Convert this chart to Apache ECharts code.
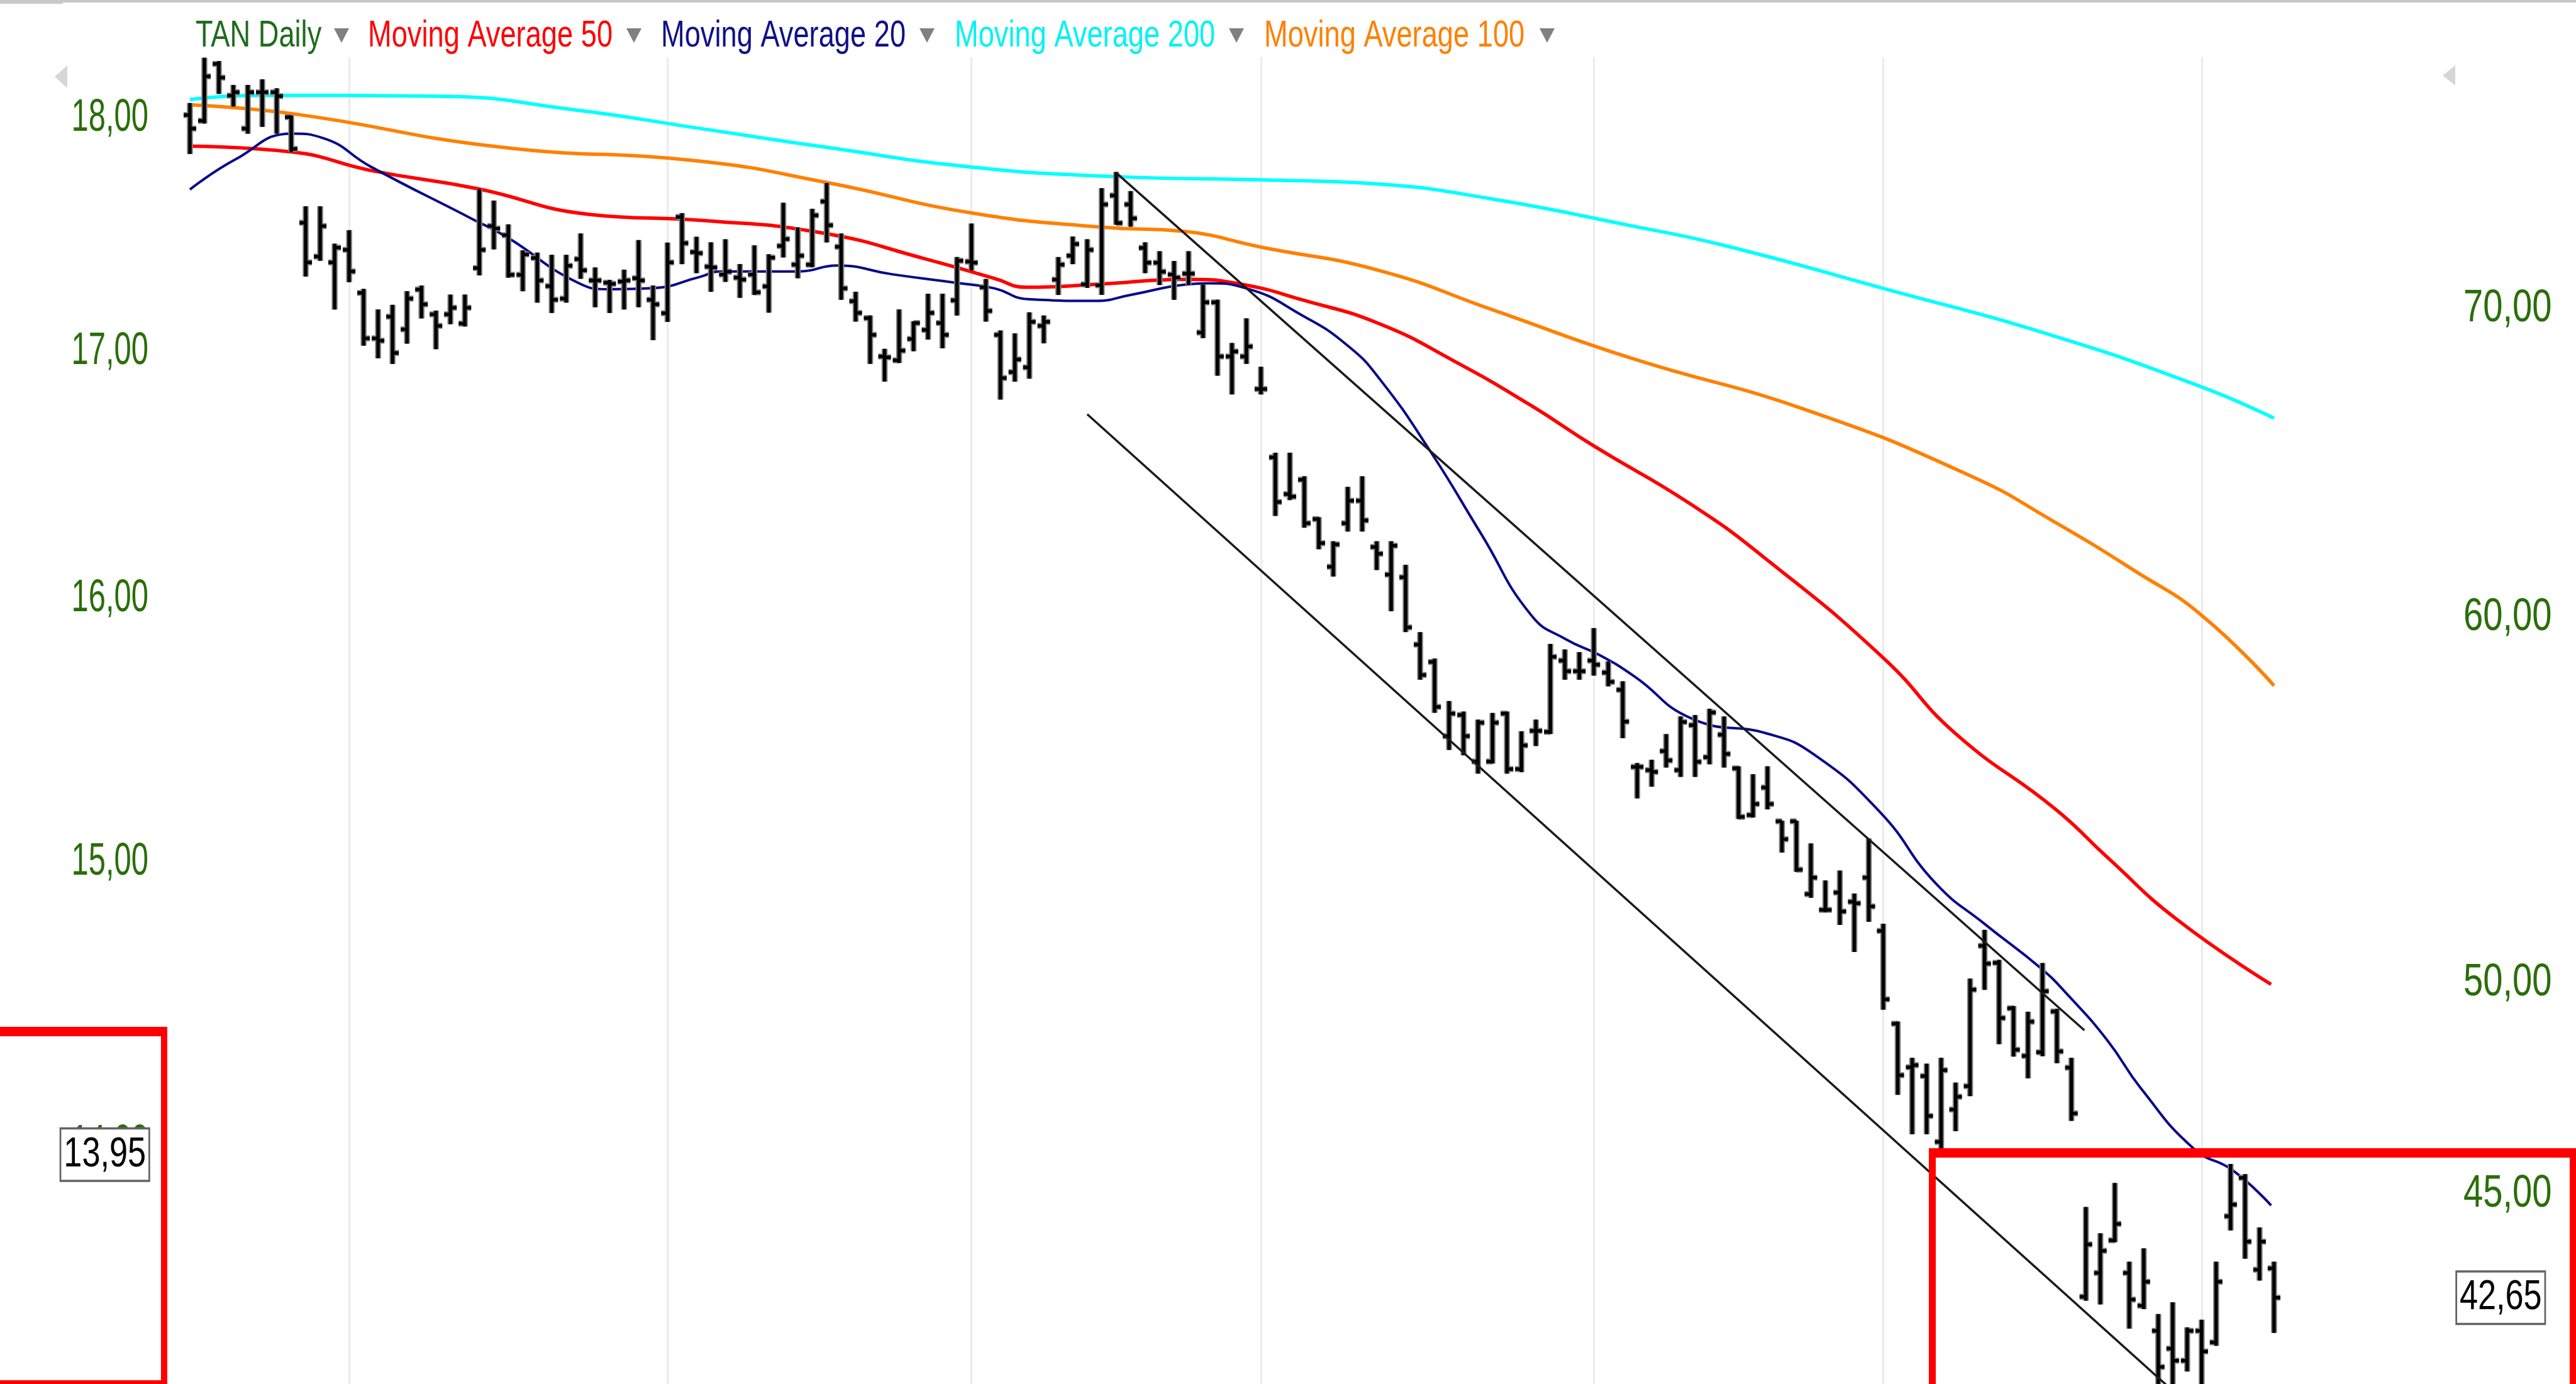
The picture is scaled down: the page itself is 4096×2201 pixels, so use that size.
<!DOCTYPE html>
<html>
<head>
<meta charset="utf-8">
<script src="https://cdn.jsdelivr.net/npm/echarts@6/dist/echarts.min.js"></script>
<style>
html, body { margin: 0; padding: 0; background: #fff; }
#chart { width: 4096px; height: 2201px; }
</style>
</head>
<body>
<div id="chart"></div>
<script>
// TAN daily bars, index 0 = first bar on the left
var opens = [76.97,76.75,78.96,77.72,76.45,77.85,77.85,76.89,72.94,71.72,
71.51,71.96,70.43,68.85,69.60,69.16,70.55,69.68,69.68,69.36,
71.31,72.82,72.49,71.07,71.67,70.67,70.23,71.63,70.87,70.79,
70.83,70.95,70.19,69.72,73.15,71.88,71.36,71.08,70.97,71.08,
70.66,72.10,71.43,71.43,73.72,72.07,70.14,69.55,68.23,68.10,
68.83,69.14,69.38,70.17,71.54,70.63,68.97,67.70,67.86,69.28,
70.90,71.75,70.73,70.70,73.94,73.61,72.03,71.50,71.08,71.11,
69.05,70.10,68.23,68.23,67.13,64.88,63.70,64.16,62.91,61.43,
62.78,63.49,62.04,61.19,61.11,59.09,58.58,56.45,57.05,55.74,
55.74,57.09,55.53,56.60,56.57,58.62,58.31,58.62,58.27,57.77,
55.59,55.50,56.03,55.50,56.76,55.86,56.49,55.55,54.27,55.02,
54.10,54.10,52.17,51.76,52.21,51.97,52.60,51.22,48.90,47.85,
47.64,46.10,46.85,47.40,50.84,50.41,49.28,48.12,48.21,49.20,
47.84,42.67,43.18,43.89,43.18,42.48,41.95,41.58,41.33,41.95,
41.71,44.42,45.28,43.25,43.28];
var highs = [77.41,79.18,79.05,78.11,78.11,78.33,77.98,76.93,73.52,73.52,
72.16,72.65,70.55,69.83,69.99,70.47,70.67,69.79,70.35,70.35,
74.15,73.73,72.86,71.92,71.84,71.76,71.76,72.53,71.31,70.87,
71.23,72.29,70.67,72.20,73.27,72.41,72.21,72.32,71.43,72.10,
71.78,73.65,72.75,73.43,74.38,72.53,70.45,69.62,68.47,69.83,
69.42,70.38,70.38,71.68,72.89,70.90,69.10,69.00,69.73,69.62,
71.68,72.42,72.32,74.19,74.79,74.08,72.21,71.89,71.54,71.89,
70.70,70.17,68.67,69.52,67.86,65.01,65.01,64.25,62.95,62.20,
63.91,64.25,62.20,62.20,61.47,59.44,58.66,57.43,57.13,56.90,
57.09,57.13,56.57,56.90,59.09,58.93,58.85,59.56,58.58,58.00,
55.68,55.77,56.49,56.99,57.03,57.21,56.99,55.59,55.37,55.59,
54.10,54.10,53.49,52.51,52.77,52.17,53.62,51.39,48.94,48.06,
47.92,48.06,47.47,50.00,51.23,50.47,49.32,49.18,50.39,49.25,
48.06,44.61,44.03,45.15,43.41,43.70,42.29,42.54,42.01,42.17,
43.41,45.58,45.35,44.16,43.41];
var lows = [75.51,76.67,77.81,77.32,76.28,76.54,76.28,75.59,71.03,71.59,
69.87,70.83,68.62,68.19,68.00,68.69,69.56,68.50,69.36,69.28,
71.07,72.00,70.99,70.51,70.11,69.75,70.11,70.95,69.95,69.75,
69.87,69.95,68.81,69.44,71.47,71.15,70.49,70.84,70.28,70.38,
69.76,71.71,70.97,71.36,72.25,70.21,69.45,68.00,67.40,68.03,
68.43,68.83,68.53,69.66,71.25,69.45,66.80,67.40,67.50,68.70,
70.38,71.47,70.63,70.38,72.89,72.82,71.15,70.73,70.21,70.73,
68.88,67.60,66.97,68.00,66.97,63.03,63.53,62.66,61.99,61.15,
62.54,62.54,61.35,60.10,59.48,58.08,57.13,56.08,55.93,55.42,
55.70,55.42,55.46,56.19,56.53,58.08,58.08,58.20,57.89,56.41,
54.74,55.06,55.59,55.33,55.33,55.68,55.59,54.18,54.22,54.44,
53.28,52.77,52.09,51.72,51.39,50.70,51.47,49.26,47.21,46.29,
46.29,45.95,46.36,47.18,49.75,48.42,48.12,47.60,48.13,47.96,
46.60,42.60,42.52,43.86,42.01,42.42,40.80,40.85,41.12,40.70,
41.65,44.12,43.50,43.03,41.92];
var closes = [76.45,78.47,78.42,77.85,77.85,77.85,77.70,75.68,71.51,72.82,
72.04,71.19,68.85,68.77,68.35,70.23,70.03,69.28,69.91,69.91,
71.96,72.73,71.07,71.80,70.87,70.19,71.39,71.23,70.87,70.75,
70.87,70.87,70.03,71.51,72.20,71.84,71.33,71.18,70.90,70.45,
71.68,72.35,71.75,73.21,72.85,70.59,69.73,68.97,68.20,68.43,
69.38,69.73,68.97,71.57,71.50,69.80,67.50,68.13,69.42,69.42,
71.43,72.17,71.96,73.61,72.93,73.10,71.50,71.18,70.97,71.11,
70.10,68.23,68.40,68.57,67.13,63.45,63.62,62.78,62.16,62.12,
63.49,62.87,61.83,62.08,59.60,58.20,57.28,57.09,56.45,56.83,
56.83,55.53,56.19,56.60,58.73,58.31,58.31,58.50,58.00,56.86,
55.59,55.45,55.77,56.85,55.73,57.12,55.95,54.22,54.57,54.57,
53.62,52.81,52.60,51.76,51.72,51.93,51.85,49.50,47.66,47.90,
46.70,47.78,47.15,49.74,50.39,49.04,48.27,48.95,49.70,48.23,
46.76,43.80,43.66,44.25,42.61,42.99,41.20,41.33,41.95,41.52,
42.99,44.68,43.86,43.86,42.65];

// moving averages: [bar index, price]
var ma20 = [[0,74.16],[3.1,75.27],[7.1,76.26],[9.2,76.09],[12.5,75.01],[19.5,73.08],[21.9,72.42],
[26.6,70.84],[29,70.56],[32,70.60],[35.2,70.99],[36.7,71.19],[42.1,71.19],[44.7,71.40],[48.5,71.09],
[53.2,70.77],[55.6,70.59],[57.9,70.21],[62.6,70.15],[65,70.36],[68.9,70.73],[70.4,70.77],[73,70.59],
[76.9,69.63],[80,68.60],[82.2,67.47],[85.7,65.08],[89.2,62.46],[92.7,59.95],[95.1,59.24],[97.4,58.78],
[99.8,58.16],[103.8,56.94],[109,56.52],[112.2,55.94],[116.8,54.34],[120.6,52.46],[124.1,51.37],
[127.9,50.27],[129.8,49.59],[132.5,48.49],[134.8,47.35],[138.5,45.93],[141.1,45.46],[143.8,44.66]];
var ma50 = [[0,75.78],[7.1,75.56],[12.5,74.87],[19.8,74.20],[27.7,73.24],[35.2,73.03],[43.7,72.57],
[50.8,71.64],[55.6,70.94],[57.8,70.63],[62.6,70.73],[69,70.91],[72.7,70.73],[76.9,70.18],[82.2,69.35],
[87.4,68.06],[92.6,66.60],[97,65.25],[103.7,63.38],[109.1,61.60],[117,58.70],[122,56.52],[128.9,54.43],
[132.5,53.13],[137.3,51.51],[143.8,49.87]];
var ma100 = [[0,77.36],[7.1,77.02],[21.4,75.75],[35.2,75.22],[44,74.42],[54.1,73.29],[63,72.78],
[68.6,72.63],[74,72.06],[82.2,71.22],[90,69.84],[99.6,68.17],[111.7,66.43],[123,64.29],[128.8,62.83],
[134.4,61.30],[139,59.96],[144,57.89]];
var ma200 = [[0,77.57],[4.5,77.73],[17,77.70],[26.6,77.17],[35.2,76.46],[44,75.74],[54.1,74.99],
[64,74.64],[74,74.52],[82.2,74.36],[90,73.81],[99.6,72.83],[106,72.12],[117,70.59],[128.8,68.93],
[139,67.20],[144,66.16]];

var upperTrend = [[64, 74.78], [130.9, 48.74]];
var lowerTrend = [[62, 66.29], [138.5, 40.32]];
var monthStarts = [11, 33, 54, 74, 97, 117, 139];

var rightTicks = [45, 50, 60, 70];
var leftTicks = [14, 15, 16, 17, 18];
var lastRight = 42.65;
var lastLeft = 13.95;

var X_MIN = -1.78, X_MAX = 156;
var labelFont = '"Liberation Sans", Arial, sans-serif';

function fmt(p) {
    return p.toFixed(2).replace('.', ',');
}
function toLog(list) {
    return list.map(function (d) { return [d[0], Math.log(d[1])]; });
}

var barData = opens.map(function (o, i) {
    return [i, Math.log(o), Math.log(highs[i]), Math.log(lows[i]), Math.log(closes[i])];
});

function renderBar(params, api) {
    var i = api.value(0);
    var o = api.coord([i, api.value(1)]);
    var h = api.coord([i, api.value(2)]);
    var l = api.coord([i, api.value(3)]);
    var c = api.coord([i, api.value(4)]);
    var parts = [];
    [['#808080', 9.5], ['#000000', 5.5]].forEach(function (s) {
        parts.push({ type: 'line', shape: { x1: h[0], y1: h[1] - 1, x2: l[0], y2: l[1] + 1 },
            style: { stroke: s[0], lineWidth: s[1] } });
        parts.push({ type: 'line', shape: { x1: o[0] - 10, y1: o[1], x2: o[0], y2: o[1] },
            style: { stroke: s[0], lineWidth: s[1] } });
        parts.push({ type: 'line', shape: { x1: c[0], y1: c[1], x2: c[0] + 10, y2: c[1] },
            style: { stroke: s[0], lineWidth: s[1] } });
    });
    return { type: 'group', children: parts };
}

// price scale labels, placed through the y axes; the last price gets a box
function labelData(ticks, last, xEdge) {
    return ticks.map(function (p) { return [xEdge, Math.log(p), p, 0]; })
        .concat([[xEdge, Math.log(last), last, 1]]);
}
function renderLabel(params, api) {
    var onRight = params.seriesName === 'right labels';
    var pt = api.coord([api.value(0), api.value(1)]);
    var boxed = api.value(3) === 1;
    var style = {
        text: fmt(api.value(2)),
        fill: boxed ? '#000000' : '#2a6e0a',
        font: (boxed ? 67 : 72) + 'px ' + labelFont,
        align: onRight ? 'left' : 'right', textAlign: onRight ? 'left' : 'right',
        verticalAlign: 'middle', textVerticalAlign: 'middle'
    };
    var x = onRight ? pt[0] + 15 : pt[0] - 25;
    var sx = 0.78;
    if (boxed) {
        style.backgroundColor = '#ffffff';
        style.borderColor = '#636363';
        style.borderWidth = 3.5;
        style.padding = [9, 5, 4, 5];
    } else if (onRight) {
        x += 10;
    } else {
        sx = 0.68;
    }
    return { type: 'text', x: x, y: pt[1] + (boxed ? 0 : 6), scaleX: sx, style: style, z2: boxed ? 10 : 1 };
}

function maLine(name, list, color, width) {
    return {
        name: name, type: 'line', data: toLog(list), smooth: 0.5, symbol: 'none',
        lineStyle: { color: color, width: width }, z: 2, silent: true
    };
}

var legendItems = [
    { text: 'TAN Daily', color: '#1e6b1e', x: 311, tri: 543 },
    { text: 'Moving Average 50', color: '#ff0000', x: 585, tri: 1008 },
    { text: 'Moving Average 20', color: '#10108a', x: 1051, tri: 1474 },
    { text: 'Moving Average 200', color: '#00f2f2', x: 1518, tri: 1966 },
    { text: 'Moving Average 100', color: '#ff8000', x: 2010, tri: 2460 }
];

var graphics = [
    { type: 'rect', shape: { x: 0, y: 0, width: 4096, height: 4 }, style: { fill: '#c8c8c8' } },
    { type: 'rect', shape: { x: 0, y: 2, width: 100, height: 4 }, style: { fill: '#c8c8c8' } },
    { type: 'polygon', shape: { points: [[87, 122], [107, 104], [107, 140]] }, style: { fill: '#d6d6d6' } },
    { type: 'polygon', shape: { points: [[3884, 120], [3904, 104], [3904, 136]] }, style: { fill: '#d6d6d6' } },
    // red highlight boxes
    { type: 'rect', shape: { x: 0, y: 1633, width: 266, height: 15 }, style: { fill: '#ff0000' }, z: 100 },
    { type: 'rect', shape: { x: 256, y: 1633, width: 10, height: 568 }, style: { fill: '#ff0000' }, z: 100 },
    { type: 'rect', shape: { x: 0, y: 2195, width: 266, height: 6 }, style: { fill: '#ff0000' }, z: 100 },
    { type: 'rect', shape: { x: 3067, y: 1826, width: 1029, height: 15 }, style: { fill: '#ff0000' }, z: 100 },
    { type: 'rect', shape: { x: 3067, y: 1826, width: 11, height: 375 }, style: { fill: '#ff0000' }, z: 100 },
    { type: 'rect', shape: { x: 4086, y: 1826, width: 10, height: 375 }, style: { fill: '#ff0000' }, z: 100 }
];
legendItems.forEach(function (it) {
    graphics.push({
        type: 'text', x: it.x, y: 58, scaleX: 0.767,
        style: { text: it.text, fill: it.color, font: '59px ' + labelFont,
            textVerticalAlign: 'middle', verticalAlign: 'middle' }
    });
    graphics.push({
        type: 'polygon', shape: { points: [[it.tri - 12, 45], [it.tri + 12, 45], [it.tri, 68]] },
        style: { fill: '#808080' }
    });
});

var chart = echarts.init(document.getElementById('chart'));
chart.setOption({
    animation: false,
    backgroundColor: '#ffffff',
    grid: { left: 261, right: 204, top: 91, bottom: 0, outerBoundsMode: 'none' },
    xAxis: { type: 'value', min: X_MIN, max: X_MAX, show: false },
    yAxis: [
        {
            type: 'value', position: 'right', min: 3.70994, max: 4.37228,
            axisLine: { show: false }, axisTick: { show: false }, splitLine: { show: false },
            axisLabel: { show: false }
        },
        {
            type: 'value', position: 'left', min: 2.57926, max: 2.90446,
            axisLine: { show: false }, axisTick: { show: false }, splitLine: { show: false },
            axisLabel: { show: false }
        }
    ],
    series: [
        {
            name: 'grid', type: 'line', data: [], z: 0, silent: true,
            markLine: {
                silent: true, symbol: ['none', 'none'], animation: false, z: 0,
                label: { show: false },
                lineStyle: { color: '#ebebeb', width: 3, type: 'solid' },
                data: monthStarts.map(function (i) { return { xAxis: i }; })
            }
        },
        maLine('Moving Average 200', ma200, '#00ffff', 5.5),
        maLine('Moving Average 100', ma100, '#ff8000', 5.5),
        maLine('Moving Average 50', ma50, '#ff0000', 5.5),
        maLine('Moving Average 20', ma20, '#0a0a88', 4),
        {
            name: 'TAN Daily', type: 'custom', data: barData, renderItem: renderBar,
            encode: { x: 0, y: [1, 2, 3, 4] }, clip: true, z: 3, silent: true
        },
        {
            name: 'upper', type: 'line', data: toLog(upperTrend), symbol: 'none',
            lineStyle: { color: '#1a1a1a', width: 3.5 }, z: 5, silent: true
        },
        {
            name: 'lower', type: 'line', data: toLog(lowerTrend), symbol: 'none',
            lineStyle: { color: '#1a1a1a', width: 3.5 }, z: 5, silent: true
        },
        {
            name: 'right labels', type: 'custom', yAxisIndex: 0, clip: false, silent: true, z: 6,
            data: labelData(rightTicks, lastRight, X_MAX), renderItem: renderLabel,
            encode: { x: 0, y: 1 }
        },
        {
            name: 'left labels', type: 'custom', yAxisIndex: 1, clip: false, silent: true, z: 6,
            data: labelData(leftTicks, lastLeft, X_MIN), renderItem: renderLabel,
            encode: { x: 0, y: 1 }
        }
    ],
    graphic: { elements: graphics }
});
</script>
</body>
</html>
